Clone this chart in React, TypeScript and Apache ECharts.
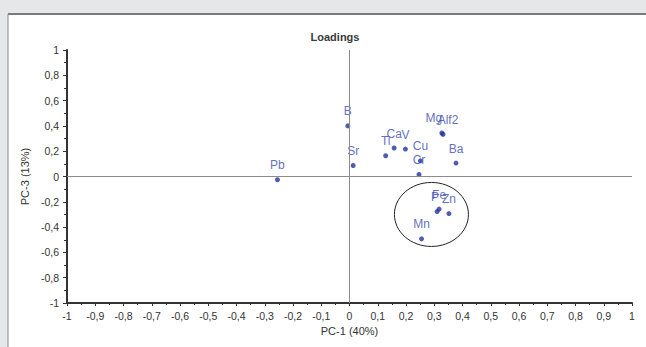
import React, { useEffect, useRef } from "react";
import * as echarts from "echarts";

const elements = ["Pb", "B", "Sr", "Ti", "Ca", "V", "Cu", "Cr", "Mg", "Alf2", "Ba", "Fe", "P", "Zn", "Mn"];
const pc1 = [-0.255, -0.006, 0.013, 0.128, 0.158, 0.198, 0.251, 0.246, 0.327, 0.331, 0.377, 0.317, 0.31, 0.352, 0.255];
const pc3 = [-0.026, 0.4, 0.087, 0.164, 0.225, 0.217, 0.124, 0.016, 0.344, 0.333, 0.106, -0.258, -0.277, -0.293, -0.493];
const labelShift: Record<string, number> = { Mg: -8, Alf2: 5, P: -2 };
const circleCenter = [0.29, -0.3];
const circleRadius = [0.131, 0.253];

const fmt = (v: number) => String(Math.round(v * 10) / 10).replace(".", ",");

export default function App() {
  const ref = useRef<HTMLDivElement>(null);
  useEffect(() => {
    if (!ref.current) return;
    const chart = echarts.init(ref.current, undefined, { renderer: "svg" });
    const axisText = { color: "#333", fontSize: 10.5, fontFamily: "Liberation Sans, Arial, sans-serif" };
    chart.setOption({
      animation: false,
      backgroundColor: "#e6e7e9",
      title: {
        text: "Loadings",
        left: 330,
        top: 26,
        textAlign: "center",
        textStyle: { fontSize: 11, fontWeight: "bold", color: "#3a3a3a", fontFamily: "Liberation Sans, Arial, sans-serif" },
      },
      graphic: [
        { id: "panel", type: "rect", z: -10, silent: true, shape: { x: 8, y: 14, width: 660, height: 360 }, style: { fill: "#ffffff" } },
        { id: "topline", type: "line", z: -9, silent: true, shape: { x1: 8, y1: 14, x2: 646, y2: 14 }, style: { stroke: "#7a7a7a", lineWidth: 2 } },
        { id: "leftline", type: "line", z: -9, silent: true, shape: { x1: 8, y1: 14, x2: 8, y2: 347 }, style: { stroke: "#8a8a8a", lineWidth: 1 } },
      ],
      grid: { left: 67, right: 14, top: 50, bottom: 44 },
      xAxis: {
        type: "value",
        min: -1,
        max: 1,
        interval: 0.1,
        name: "PC-1 (40%)",
        nameLocation: "middle",
        nameGap: 21,
        nameTextStyle: { ...axisText, fontSize: 11 },
        axisLine: { onZero: false, lineStyle: { color: "#333", width: 2 } },
        axisTick: { show: true, length: 3, lineStyle: { color: "#333" } },
        minorTick: { show: true, splitNumber: 2, length: 2, lineStyle: { color: "#333" } },
        splitLine: { show: false },
        axisLabel: { ...axisText, margin: 7, formatter: fmt },
      },
      yAxis: {
        type: "value",
        min: -1,
        max: 1,
        interval: 0.2,
        name: "PC-3 (13%)",
        nameLocation: "middle",
        nameGap: 30,
        nameTextStyle: { ...axisText, fontSize: 11 },
        axisLine: { onZero: false, lineStyle: { color: "#333", width: 2 } },
        axisTick: { show: true, length: 4, lineStyle: { color: "#333" } },
        minorTick: { show: true, splitNumber: 2, length: 3, lineStyle: { color: "#333" } },
        splitLine: { show: false },
        axisLabel: { ...axisText, margin: 8, formatter: fmt },
      },
      series: [
        {
          type: "scatter",
          symbolSize: 5,
          itemStyle: { color: "#22349a" },
          label: {
            show: true,
            position: "top",
            distance: 6,
            formatter: (p: any) => p.name,
            color: "#3a49b2",
            fontSize: 12,
            fontFamily: "Liberation Sans, Arial, sans-serif",
          },
          data: elements.map((n, i) => ({
            name: n,
            value: [pc1[i], pc3[i]],
            label: labelShift[n] ? { offset: [labelShift[n], 0] } : undefined,
          })),
          markLine: {
            silent: true,
            symbol: "none",
            label: { show: false },
            lineStyle: { color: "#8c8c8c", width: 1, type: "solid" },
            data: [{ xAxis: 0 }, { yAxis: 0 }],
          },
        },
      ],
    });
    const c = chart.convertToPixel({ gridIndex: 0 }, circleCenter) as number[];
    const e = chart.convertToPixel({ gridIndex: 0 }, [circleCenter[0] + circleRadius[0], circleCenter[1] + circleRadius[1]]) as number[];
    chart.setOption({
      graphic: [
        {
          id: "circle",
          type: "ellipse",
          z: 10,
          silent: true,
          shape: { cx: c[0], cy: c[1], rx: Math.abs(e[0] - c[0]), ry: Math.abs(c[1] - e[1]) },
          style: { fill: "none", stroke: "#222", lineWidth: 1 },
        },
      ],
    });
    return () => chart.dispose();
  }, []);
  return <div ref={ref} style={{ position: "fixed", left: 0, top: 0, width: 646, height: 347 }} />;
}
